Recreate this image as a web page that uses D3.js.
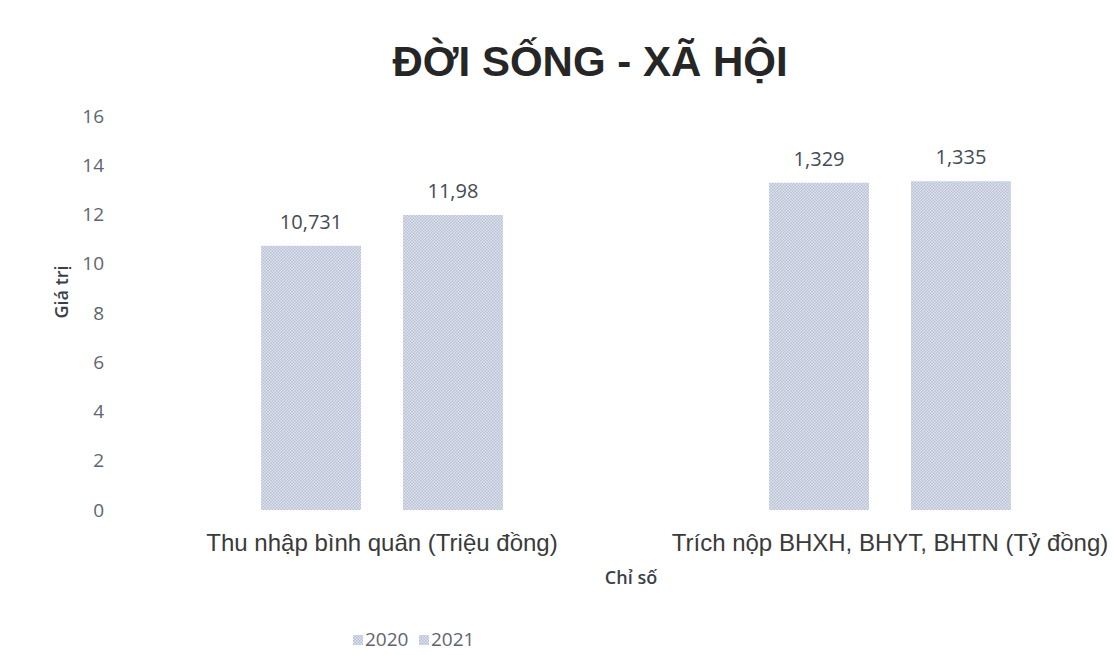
<!DOCTYPE html>
<html>
<head>
<meta charset="utf-8">
<script src="https://cdn.jsdelivr.net/npm/d3@7"></script>
<style>
  body { margin: 0; background: #fff; }
  svg { display: block; }
</style>
</head>
<body>
<svg></svg>
<script>
// Chart data
var categories = ["Thu nhập bình quân (Triệu đồng)", "Trích nộp BHXH, BHYT, BHTN (Tỷ đồng)"];
var series = ["2020", "2021"];
var values2020 = [10.731, 13.29];
var values2021 = [11.98, 13.35];
var labels2020 = ["10,731", "1,329"];
var labels2021 = ["11,98", "1,335"];
var yTicks = [0, 2, 4, 6, 8, 10, 12, 14, 16];

var width = 1114,
    height = 655;

var svg = d3.select("svg")
    .attr("width", width)
    .attr("height", height);

// dotted fill like the printed bars
var defs = svg.append("defs");
var pat = defs.append("pattern")
    .attr("id", "dots")
    .attr("width", 3)
    .attr("height", 3)
    .attr("patternUnits", "userSpaceOnUse");
pat.append("rect").attr("width", 3).attr("height", 3).attr("fill", "#e1e5ee");
pat.append("rect").attr("width", 1.5).attr("height", 1.5).attr("fill", "#b6bed2");
pat.append("rect").attr("x", 1.5).attr("y", 1.5).attr("width", 1.5).attr("height", 1.5).attr("fill", "#b6bed2");

var plotLeft = 128, plotRight = 1144;

var y = d3.scaleLinear()
    .domain([0, 16])
    .range([510, 116]);

var x0 = d3.scaleBand()
    .domain(categories)
    .range([plotLeft, plotRight])
    .paddingInner(0.524)
    .paddingOuter(0.262);

var x1 = d3.scaleBand()
    .domain(series)
    .range([0, x0.bandwidth()])
    .paddingInner(0.296);

var rows = categories.map(function (c, i) {
  return {
    cat: c,
    bars: [
      { s: "2020", v: values2020[i], label: labels2020[i] },
      { s: "2021", v: values2021[i], label: labels2021[i] }
    ]
  };
});

// y axis (no line, no ticks)
var yAxis = svg.append("g")
    .attr("transform", "translate(104,0)")
    .call(d3.axisLeft(y).tickValues(yTicks).tickSize(0).tickPadding(0));
yAxis.select(".domain").remove();
yAxis.selectAll("text")
    .attr("fill", "#5f6470")
    .style("font-family", "'Open Sans', sans-serif")
    .style("font-size", "19px");

// bars
var groups = svg.selectAll("g.cat")
    .data(rows)
  .enter().append("g")
    .attr("class", "cat")
    .attr("transform", function (d) { return "translate(" + x0(d.cat) + ",0)"; });

groups.selectAll("rect")
    .data(function (d) { return d.bars; })
  .enter().append("rect")
    .attr("x", function (d) { return x1(d.s); })
    .attr("y", function (d) { return y(d.v); })
    .attr("width", x1.bandwidth())
    .attr("height", function (d) { return y(0) - y(d.v); })
    .attr("fill", "url(#dots)");

groups.selectAll("text.val")
    .data(function (d) { return d.bars; })
  .enter().append("text")
    .attr("class", "val")
    .attr("x", function (d) { return x1(d.s) + x1.bandwidth() / 2; })
    .attr("y", function (d) { return y(d.v) - 17; })
    .attr("text-anchor", "middle")
    .attr("fill", "#454a55")
    .style("font-family", "'Open Sans', sans-serif")
    .style("font-size", "20px")
    .text(function (d) { return d.label; });

// category labels
svg.selectAll("text.cat")
    .data(categories)
  .enter().append("text")
    .attr("class", "cat")
    .attr("x", function (d) { return x0(d) + x0.bandwidth() / 2; })
    .attr("y", 551)
    .attr("text-anchor", "middle")
    .attr("fill", "#3a3a3a")
    .style("font-family", "'Liberation Sans', Arial, sans-serif")
    .style("font-size", "24px")
    .text(function (d) { return d; });

// titles
svg.append("text")
    .attr("x", 590)
    .attr("y", 76)
    .attr("text-anchor", "middle")
    .attr("fill", "#262626")
    .style("font-family", "'Liberation Sans', Arial, sans-serif")
    .style("font-size", "42px")
    .style("font-weight", "bold")
    .text("ĐỜI SỐNG - XÃ HỘI");

svg.append("text")
    .attr("transform", "translate(68,292) rotate(-90)")
    .attr("text-anchor", "middle")
    .attr("fill", "#3b3f4a")
    .style("font-family", "'Open Sans', sans-serif")
    .style("font-size", "18px")
    .style("font-weight", "600")
    .text("Giá trị");

svg.append("text")
    .attr("x", 631)
    .attr("y", 584)
    .attr("text-anchor", "middle")
    .attr("fill", "#3b3f4a")
    .style("font-family", "'Open Sans', sans-serif")
    .style("font-size", "18px")
    .style("font-weight", "600")
    .text("Chỉ số");

// legend
var legend = svg.selectAll("g.leg")
    .data(series)
  .enter().append("g")
    .attr("class", "leg")
    .attr("transform", function (d, i) { return "translate(" + (353 + i * 66) + ",646)"; });
legend.append("rect")
    .attr("y", -11)
    .attr("width", 10)
    .attr("height", 10)
    .attr("fill", "url(#dots)");
legend.append("text")
    .attr("x", 12)
    .attr("y", 0)
    .attr("fill", "#5f6470")
    .style("font-family", "'Open Sans', sans-serif")
    .style("font-size", "19px")
    .text(function (d) { return d; });
</script>
</body>
</html>
